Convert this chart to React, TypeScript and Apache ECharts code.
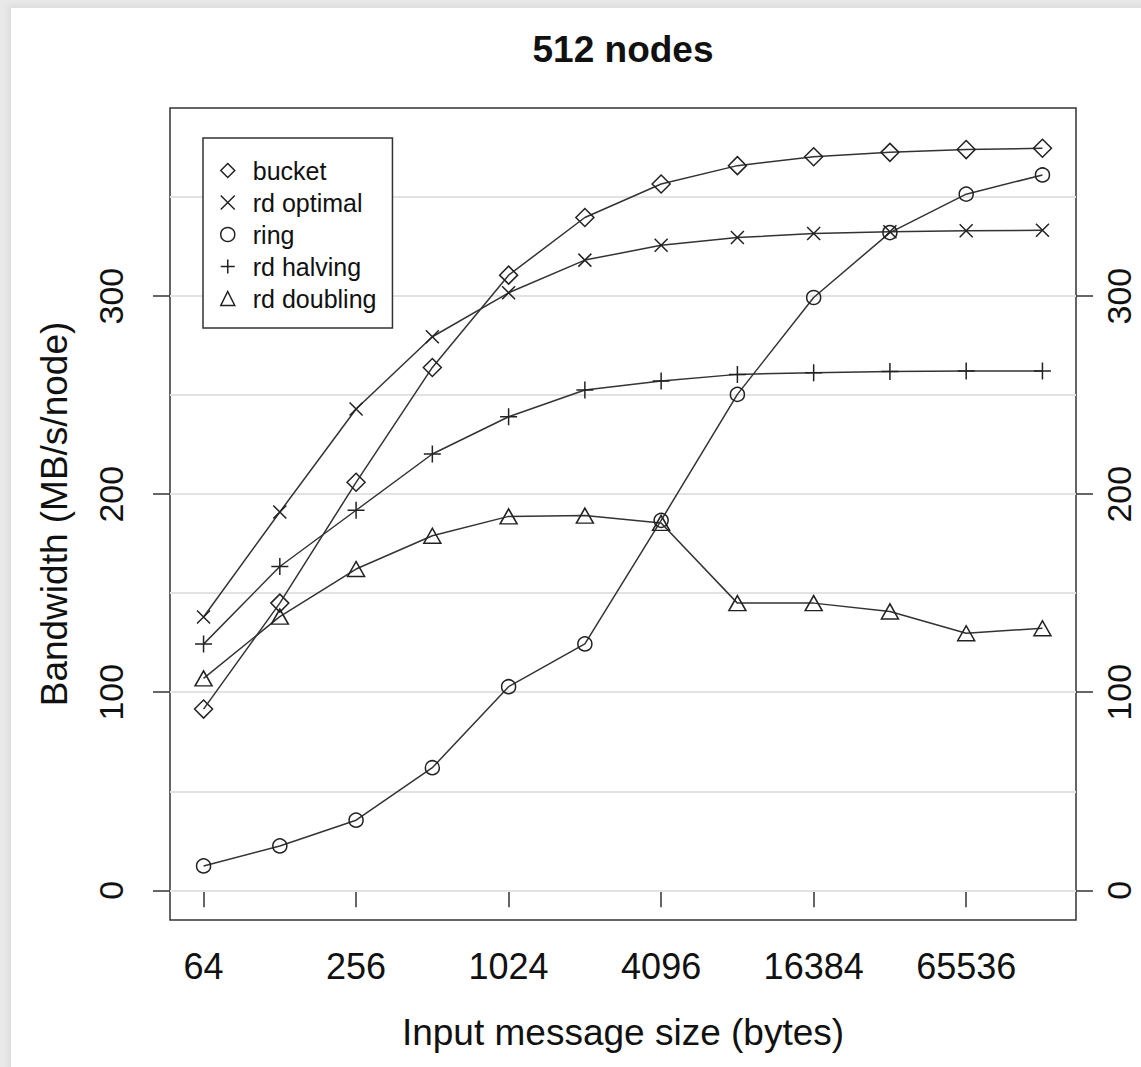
import React, { useEffect, useRef } from "react";
import * as echarts from "echarts";

// x values are log2(message size in bytes): 64 .. 131072
const sizesLog2 = [6, 7, 8, 9, 10, 11, 12, 13, 14, 15, 16, 17];
const bucket = [91.5, 145, 206, 264, 310.6, 339.7, 356.6, 365.9, 370.4, 372.6, 374, 374.7];
const rdOptimal = [138, 191, 243, 279.5, 301.7, 318.2, 325.7, 329.6, 331.6, 332.5, 333, 333.3];
const ring = [12.3, 22.4, 35.4, 61.9, 102.8, 124.4, 186.8, 250.4, 299.3, 332.1, 351.5, 361.2];
const rdHalving = [124.3, 163.5, 191.9, 220.3, 239.1, 252.6, 257.1, 260.5, 261.3, 261.9, 262.2, 262.2];
const rdDoubling = [107, 138.2, 162.2, 179, 188.8, 189.2, 185.5, 145, 145, 140.8, 129.8, 132.3];

const xTickLog2 = [6, 8, 10, 12, 14, 16];
const yTicks = [0, 100, 200, 300];
const gridValues = [0, 50, 100, 150, 200, 250, 300, 350];

const FONT = "'Liberation Sans', Arial, Helvetica, sans-serif";
const INK = "#111";
const LINE = "#333";

const CROSS = "path://M0,0L10,10M10,0L0,10";
const PLUS = "path://M5,0L5,10M0,5L10,5";

const seriesDefs = [
  { name: "bucket", data: bucket, symbol: "diamond", size: [18, 18] },
  { name: "rd optimal", data: rdOptimal, symbol: CROSS, size: [13, 13] },
  { name: "ring", data: ring, symbol: "circle", size: [14, 14] },
  { name: "rd halving", data: rdHalving, symbol: PLUS, size: [17, 17] },
  { name: "rd doubling", data: rdDoubling, symbol: "triangle", size: [17, 15] },
];

const legendIcons: Record<string, string> = {
  bucket: "diamond",
  "rd optimal": CROSS,
  ring: "circle",
  "rd halving": PLUS,
  "rd doubling": "triangle",
};

export default function App() {
  const ref = useRef<HTMLDivElement>(null);

  useEffect(() => {
    if (!ref.current) return;
    const chart = echarts.init(ref.current, null, { renderer: "svg" });

    const markerStyle = {
      color: "rgba(0,0,0,0)",
      borderColor: "#222",
      borderWidth: 1.5,
    };

    const yAxisBase = (position: "left" | "right", margin: number) => ({
      type: "value",
      position,
      min: -15,
      max: 395,
      axisLine: { show: false },
      splitLine: { show: false },
      axisTick: {
        show: true,
        inside: false,
        length: 17,
        lineStyle: { color: LINE, width: 1.5 },
        customValues: yTicks,
      },
      axisLabel: {
        customValues: yTicks,
        rotate: 90,
        margin,
        fontSize: 34,
        color: INK,
        fontFamily: FONT,
      },
    });

    const option: any = {
      animation: false,
      backgroundColor: "transparent",
      title: {
        text: "512 nodes",
        left: 618,
        top: 26,
        textAlign: "center",
        textStyle: { fontSize: 37, fontWeight: "bold", color: INK, fontFamily: FONT },
      },
      grid: {
        left: 170,
        right: 65,
        top: 108,
        bottom: 147,
        show: true,
        borderColor: LINE,
        borderWidth: 1.5,
        backgroundColor: "transparent",
      },
      legend: {
        orient: "vertical",
        left: 203,
        top: 138,
        padding: [20, 16, 17, 17],
        itemGap: 7,
        itemWidth: 14,
        itemHeight: 14,
        selectedMode: false,
        backgroundColor: "#fff",
        borderColor: LINE,
        borderWidth: 1.5,
        borderRadius: 0,
        z: 20,
        textStyle: {
          fontSize: 25,
          color: INK,
          fontFamily: FONT,
          padding: [0, 0, 0, 13],
        },
        data: seriesDefs.map((s) => ({
          name: s.name,
          icon: legendIcons[s.name],
          itemStyle: markerStyle,
        })),
      },
      xAxis: {
        type: "value",
        min: 5.56,
        max: 17.44,
        axisLine: { show: false },
        splitLine: { show: false },
        axisTick: {
          show: true,
          inside: false,
          length: 17,
          lineStyle: { color: LINE, width: 1.5 },
          customValues: xTickLog2,
        },
        axisLabel: {
          customValues: xTickLog2,
          formatter: (v: number) => String(Math.round(Math.pow(2, v))),
          margin: 28,
          fontSize: 36,
          color: INK,
          fontFamily: FONT,
        },
        name: "Input message size (bytes)",
        nameLocation: "middle",
        nameGap: 94,
        nameTextStyle: { fontSize: 37, color: INK, fontFamily: FONT },
      },
      yAxis: [
        {
          ...yAxisBase("left", 42),
          name: "Bandwidth (MB/s/node)",
          nameLocation: "middle",
          nameGap: 97,
          nameTextStyle: { fontSize: 37, color: INK, fontFamily: FONT },
        },
        yAxisBase("right", 26),
      ],
      series: [
        {
          name: "__grid",
          type: "line",
          data: [],
          silent: true,
          z: 1,
          markLine: {
            silent: true,
            z: 1,
            symbol: ["none", "none"],
            label: { show: false },
            lineStyle: { color: "#e2e2e2", width: 2, type: "solid" },
            emphasis: { disabled: true },
            data: gridValues.map((v) => ({ yAxis: v })),
          },
        },
        ...seriesDefs.map((s) => ({
          name: s.name,
          type: "line",
          z: 3,
          data: s.data.map((v, i) => [sizesLog2[i], v]),
          symbol: s.symbol,
          symbolSize: s.size,
          showAllSymbol: true,
          lineStyle: { color: LINE, width: 1.5 },
          itemStyle: markerStyle,
          emphasis: { disabled: true },
        })),
      ],
    };

    chart.setOption(option);
    return () => chart.dispose();
  }, []);

  return (
    <div
      style={{
        position: "fixed",
        left: 0,
        top: 0,
        width: 1141,
        height: 1067,
        overflow: "hidden",
        background: "#e9e9e9",
      }}
    >
      <div
        style={{
          position: "absolute",
          left: 11,
          top: 8,
          width: 1200,
          height: 1100,
          background: "#fff",
          boxShadow: "0 0 7px 3px rgba(0,0,0,0.06)",
        }}
      />
      <div
        ref={ref}
        style={{ position: "absolute", left: 0, top: 0, width: 1141, height: 1067 }}
      />
    </div>
  );
}
